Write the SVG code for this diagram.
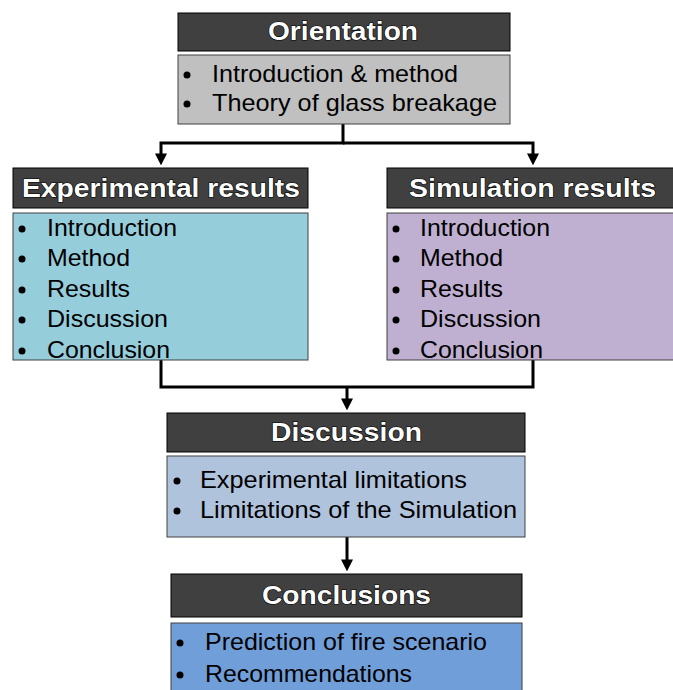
<svg xmlns="http://www.w3.org/2000/svg" width="673" height="690" viewBox="0 0 673 690">
<defs>
<marker id="ah" markerWidth="4" markerHeight="4" refX="2.2" refY="2" orient="auto" markerUnits="strokeWidth" viewBox="0 0 4 4">
<path d="M0,0 L4,2 L0,4 Z" fill="#000"/>
</marker>
<style>
.hd{fill:#404040;stroke:#000;stroke-width:1}
.ht{font-family:"Liberation Sans",Arial,sans-serif;font-weight:bold;font-size:25px;fill:#fff;text-anchor:middle;stroke:#000;stroke-width:1.2;paint-order:stroke}
.bd{stroke:#404040;stroke-width:1}
.bt{font-family:"Liberation Sans",Arial,sans-serif;font-size:24px;fill:#000}
.con{fill:none;stroke:#000;stroke-width:3}
</style>
</defs>
<rect width="673" height="690" fill="#fff"/>
<g id="connectors">
<path class="con" d="M343,124 V143 H161 V160" marker-end="url(#ah)"/>
<path class="con" d="M343,143 H533 V160" marker-end="url(#ah)"/>
<path class="con" d="M161,360 V387 H533 V360"/>
<path class="con" d="M347,387 V405" marker-end="url(#ah)"/>
<path class="con" d="M347,537 V566" marker-end="url(#ah)"/>
</g>
<g id="orientation">
<rect class="hd" x="178" y="13" width="332" height="38"/>
<text class="ht" x="343" y="40" textLength="150" lengthAdjust="spacingAndGlyphs">Orientation</text>
<rect class="bd" x="178" y="55" width="332" height="69" fill="#c0c0c0"/>
<circle cx="187" cy="75" r="3.5"/><text class="bt" x="212" y="82" textLength="246" lengthAdjust="spacingAndGlyphs">Introduction &amp; method</text>
<circle cx="187" cy="104" r="3.5"/><text class="bt" x="212" y="111" textLength="285" lengthAdjust="spacingAndGlyphs">Theory of glass breakage</text>
</g>
<g id="experimental">
<rect class="hd" x="13" y="168" width="295" height="40"/>
<text class="ht" x="161" y="197" textLength="278" lengthAdjust="spacingAndGlyphs">Experimental results</text>
<rect class="bd" x="13" y="213" width="295" height="147" fill="#96cddb"/>
<circle cx="22" cy="229" r="3.5"/><text class="bt" x="47" y="236" textLength="130" lengthAdjust="spacingAndGlyphs">Introduction</text>
<circle cx="22" cy="259" r="3.5"/><text class="bt" x="47" y="266" textLength="83" lengthAdjust="spacingAndGlyphs">Method</text>
<circle cx="22" cy="290" r="3.5"/><text class="bt" x="47" y="297" textLength="83" lengthAdjust="spacingAndGlyphs">Results</text>
<circle cx="22" cy="320" r="3.5"/><text class="bt" x="47" y="327" textLength="121" lengthAdjust="spacingAndGlyphs">Discussion</text>
<circle cx="22" cy="351" r="3.5"/><text class="bt" x="47" y="358" textLength="123" lengthAdjust="spacingAndGlyphs">Conclusion</text>
</g>
<g id="simulation">
<rect class="hd" x="387" y="168" width="290" height="40"/>
<text class="ht" x="532.5" y="197" textLength="247" lengthAdjust="spacingAndGlyphs">Simulation results</text>
<rect class="bd" x="387" y="213" width="290" height="147" fill="#bfb0d1"/>
<circle cx="396" cy="229" r="3.5"/><text class="bt" x="420" y="236" textLength="130" lengthAdjust="spacingAndGlyphs">Introduction</text>
<circle cx="396" cy="259" r="3.5"/><text class="bt" x="420" y="266" textLength="83" lengthAdjust="spacingAndGlyphs">Method</text>
<circle cx="396" cy="290" r="3.5"/><text class="bt" x="420" y="297" textLength="83" lengthAdjust="spacingAndGlyphs">Results</text>
<circle cx="396" cy="320" r="3.5"/><text class="bt" x="420" y="327" textLength="121" lengthAdjust="spacingAndGlyphs">Discussion</text>
<circle cx="396" cy="351" r="3.5"/><text class="bt" x="420" y="358" textLength="123" lengthAdjust="spacingAndGlyphs">Conclusion</text>
</g>
<g id="discussion">
<rect class="hd" x="167" y="413" width="358" height="39"/>
<text class="ht" x="346.5" y="441" textLength="151" lengthAdjust="spacingAndGlyphs">Discussion</text>
<rect class="bd" x="167" y="456" width="358" height="81" fill="#b0c3dd"/>
<circle cx="177" cy="481" r="3.5"/><text class="bt" x="200" y="488" textLength="267" lengthAdjust="spacingAndGlyphs">Experimental limitations</text>
<circle cx="177" cy="511" r="3.5"/><text class="bt" x="200" y="518" textLength="317" lengthAdjust="spacingAndGlyphs">Limitations of the Simulation</text>
</g>
<g id="conclusions">
<rect class="hd" x="171" y="574" width="351" height="43"/>
<text class="ht" x="346.5" y="604" textLength="169" lengthAdjust="spacingAndGlyphs">Conclusions</text>
<rect class="bd" x="171" y="623" width="351" height="70" fill="#709ed9"/>
<circle cx="180" cy="643" r="3.5"/><text class="bt" x="205" y="650" textLength="282" lengthAdjust="spacingAndGlyphs">Prediction of fire scenario</text>
<circle cx="180" cy="675" r="3.5"/><text class="bt" x="205" y="682" textLength="207" lengthAdjust="spacingAndGlyphs">Recommendations</text>
</g>
</svg>
